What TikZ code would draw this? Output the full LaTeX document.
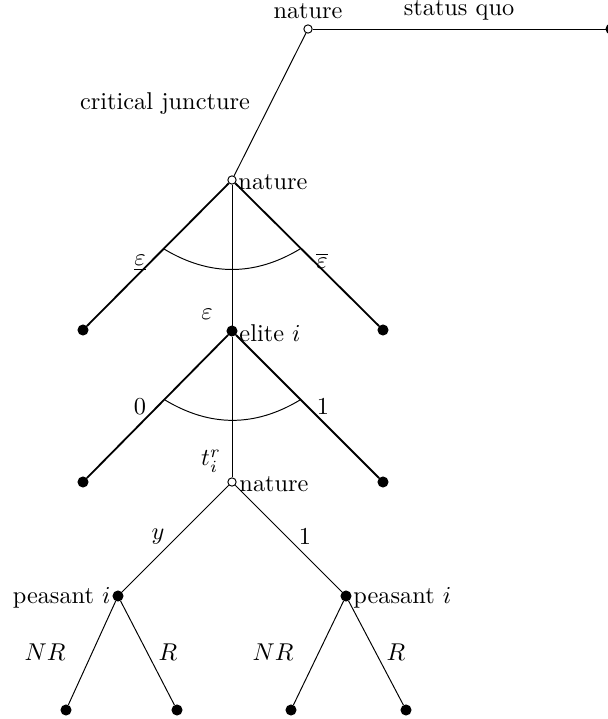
\documentclass[tikz,border=0pt]{standalone}
\begin{document}
\begin{tikzpicture}[x=0.01445cm,y=-0.01445cm,
  opn/.style={circle,draw,fill=white,inner sep=0pt,minimum size=0.12cm,line width=0.4pt},
  fil/.style={circle,draw,fill=black,inner sep=0pt,minimum size=0.145cm},
  thn/.style={line width=0.4pt},
  thk/.style={line width=0.75pt},
  lab/.style={inner sep=0pt}]
\useasboundingbox (0,0) rectangle (608,719);
% nodes
\node[opn] (n0) at (308,29) {};
\node[fil] (sq) at (611,29) {};
\node[opn] (n1) at (232,180) {};
\node[fil] (l1) at (83,330) {};
\node[fil] (r1) at (383,330) {};
\node[fil] (el) at (232,331) {};
\node[fil] (l2) at (83,482) {};
\node[fil] (r2) at (383,482) {};
\node[opn] (n2) at (232,482) {};
\node[fil] (pl) at (118,596) {};
\node[fil] (pr) at (346,596) {};
\node[fil] (b1) at (66,710) {};
\node[fil] (b2) at (177,710) {};
\node[fil] (b3) at (291,710) {};
\node[fil] (b4) at (406,710) {};
% edges
\draw[thn] (n0) -- (sq);
\draw[thn] (n0) -- (n1);
\draw[thk] (n1) -- (l1);
\draw[thk] (n1) -- (r1);
\draw[thn] (n1) -- (el);
\draw[thk] (el) -- (l2);
\draw[thk] (el) -- (r2);
\draw[thn] (el) -- (n2);
\draw[thn] (n2) -- (pl);
\draw[thn] (n2) -- (pr);
\draw[thn] (pl) -- (b1);
\draw[thn] (pl) -- (b2);
\draw[thn] (pr) -- (b3);
\draw[thn] (pr) -- (b4);
% arcs
\coordinate (a1) at (164,249);
\coordinate (a2) at (300,249);
\draw[thn] (a1) to[bend right=31] (a2);
\coordinate (a3) at (165,400);
\coordinate (a4) at (300,400);
\draw[thn] (a3) to[bend right=31] (a4);
% labels
\node[lab,anchor=base] (t0) at (308,19) {nature};
\node[lab,anchor=base] (t1) at (459,15.5) {status quo};
\node[lab] (t2) at (165,104) {critical juncture};
\node[lab,anchor=west] (t3) at (238,182) {nature};
\node[lab] (t4) at (140,263) {$\underline{\varepsilon}$};
\node[lab] (t5) at (322,261) {$\overline{\varepsilon}$};
\node[lab] (t6) at (207,314) {$\varepsilon$};
\node[lab,anchor=west] (t7) at (239,333) {elite $i$};
\node[lab] (t8) at (140,407) {$0$};
\node[lab] (t9) at (323,407) {$1$};
\node[lab] (t10) at (211,461) {$t_i^r$};
\node[lab,anchor=west] (t11) at (239,484) {nature};
\node[lab] (t12) at (158,537) {$y$};
\node[lab] (t13) at (305,537) {$1$};
\node[lab,anchor=east] (t14) at (111,598) {peasant $i$};
\node[lab,anchor=west] (t15) at (353,598) {peasant $i$};
\node[lab] (t16) at (45,652) {$NR$};
\node[lab] (t17) at (168,652) {$R$};
\node[lab] (t18) at (273,652) {$NR$};
\node[lab] (t19) at (396,652) {$R$};
\end{tikzpicture}
\end{document}
